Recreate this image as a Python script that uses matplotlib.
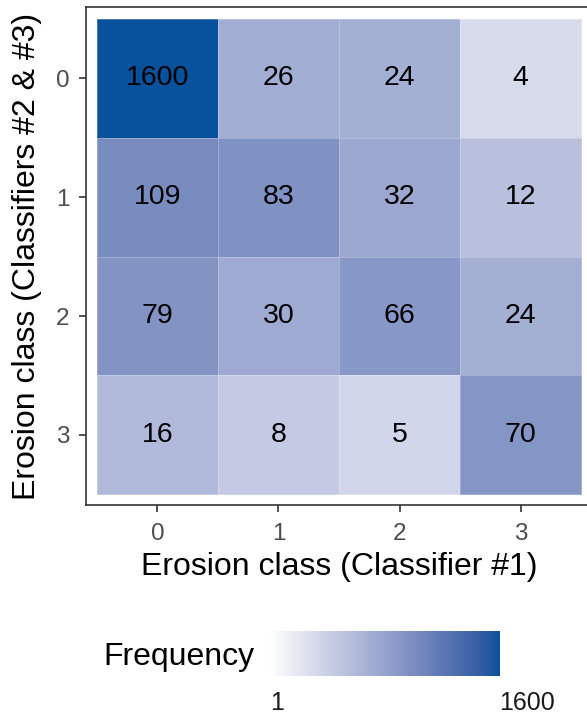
import numpy as np
import matplotlib
matplotlib.use('Agg')
import matplotlib.pyplot as plt
from matplotlib.colors import ListedColormap, LogNorm, to_rgb

plt.rcParams['font.family'] = ['Liberation Sans', 'DejaVu Sans']

classes = ['0', '1', '2', '3']
# rows: classifiers #2 & #3, columns: classifier #1
counts = [
    [1600, 26, 24, 4],
    [109, 83, 32, 12],
    [79, 30, 66, 24],
    [16, 8, 5, 70],
]
freq_min = 1
freq_max = 1600


def srgb_to_lab(rgb):
    c = np.asarray(rgb, dtype=float)
    c = np.where(c <= 0.04045, c / 12.92, ((c + 0.055) / 1.055) ** 2.4)
    m = np.array([[0.4124, 0.3576, 0.1805],
                  [0.2126, 0.7152, 0.0722],
                  [0.0193, 0.1192, 0.9505]])
    xyz = m @ c / np.array([0.95047, 1.0, 1.08883])
    f = np.where(xyz > 0.008856, np.cbrt(xyz), 7.787 * xyz + 16 / 116)
    return np.array([116 * f[1] - 16, 500 * (f[0] - f[1]), 200 * (f[1] - f[2])])


def lab_to_srgb(lab):
    L, a, b = lab
    fy = (L + 16) / 116
    fx = fy + a / 500
    fz = fy - b / 200
    f = np.array([fx, fy, fz])
    xyz = np.where(f ** 3 > 0.008856, f ** 3, (f - 16 / 116) / 7.787)
    xyz = xyz * np.array([0.95047, 1.0, 1.08883])
    m = np.array([[3.2406, -1.5372, -0.4986],
                  [-0.9689, 1.8758, 0.0415],
                  [0.0557, -0.2040, 1.0570]])
    c = m @ xyz
    c = np.where(c <= 0.0031308, 12.92 * c, 1.055 * np.clip(c, 0, None) ** (1 / 2.4) - 0.055)
    return np.clip(c, 0, 1)


def lab_gradient(low, high, n=256):
    lo = srgb_to_lab(to_rgb(low))
    hi = srgb_to_lab(to_rgb(high))
    return ListedColormap([lab_to_srgb(lo + (hi - lo) * t) for t in np.linspace(0, 1, n)])


cmap = lab_gradient('white', '#08519c')
norm = LogNorm(vmin=freq_min, vmax=freq_max)

W, H = 587, 715
fig = plt.figure(figsize=(W / 100, H / 100), dpi=100)
ax = fig.add_axes([86 / W, 1 - 505 / H, (592 - 86) / W, (505 - 7) / H])

data = np.array(counts)
x = np.arange(len(classes) + 1) - 0.5
ax.pcolormesh(x, x, data, cmap=cmap, norm=norm,
              edgecolor=(1, 1, 1, 0.25), linewidth=0.6)
for i in range(len(classes)):
    for j in range(len(classes)):
        ax.text(j, i, str(counts[i][j]), ha='center', va='center',
                fontsize=20.5, color='black')

ax.set_xlim(-0.59, 3.59)
ax.set_ylim(3.59, -0.6)
ax.set_xticks(range(len(classes)))
ax.set_yticks(range(len(classes)))
ax.set_xticklabels(classes)
ax.set_yticklabels(classes)
ax.tick_params(length=5, width=1.2, color='#333333', labelcolor='#4d4d4d',
               labelsize=17.5)
ax.tick_params(axis='x', pad=8)
ax.tick_params(axis='y', pad=7)
for s in ax.spines.values():
    s.set_color('#333333')
    s.set_linewidth(1.2)
ax.set_xlabel('Erosion class (Classifier #1)', fontsize=23, labelpad=5)
ax.set_ylabel('Erosion class (Classifiers #2 & #3)', fontsize=23, labelpad=10)

# colour bar legend at the bottom
cax = fig.add_axes([270 / W, 1 - 676 / H, 229 / W, 45 / H])
grad = np.logspace(np.log10(freq_min), np.log10(freq_max), 256)[None, :]
cax.imshow(grad, cmap=cmap, norm=norm, aspect='auto',
           extent=[0, 1, 0, 1])
cax.set_xticks([])
cax.set_yticks([])
for s in cax.spines.values():
    s.set_visible(False)
fig.text(103 / W, 1 - 657 / H, 'Frequency', fontsize=23, va='center', ha='left')
fig.text(270 / W, 1 - 703 / H, str(freq_min), fontsize=18, color='#1a1a1a',
         va='center', ha='left')
fig.text(499 / W, 1 - 703 / H, str(freq_max), fontsize=18, color='#1a1a1a',
         va='center', ha='left')

fig.savefig('out.png', dpi=100)
